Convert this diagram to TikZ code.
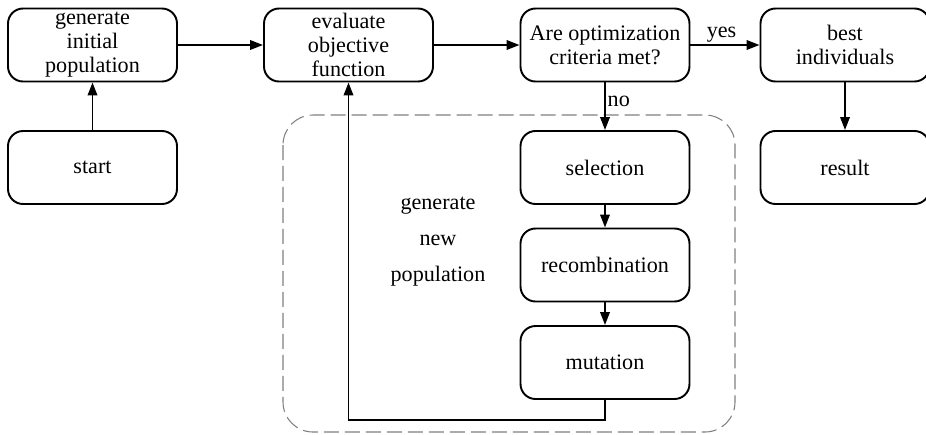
\documentclass[tikz,border=0pt]{standalone}
\usepackage{fontspec}
\setmainfont{Liberation Serif}
\usetikzlibrary{arrows.meta,positioning}
\tikzset{
  box/.style={draw, line width=1.1pt, rounded corners=0.3cm, align=center, minimum width=3.38cm, minimum height=1.46cm, inner sep=1pt, font=\fontsize{12.6}{13.7}\selectfont, fill=white},
  arr/.style={-{Triangle[length=2.6mm, width=1.9mm]}, line width=1.1pt},
  lbl/.style={font=\fontsize{12.6}{14}\selectfont, inner sep=1pt},
  group/.style={draw, gray, dashed, dash pattern=on 0.3cm off 0.12cm, line width=0.6pt, rounded corners=0.6cm}}

\begin{document}
\begin{tikzpicture}[x=0.02cm, y=-0.02cm]
  \useasboundingbox (0,0) rectangle (926,434);
  % dashed group
  \draw[group] (283,115) rectangle (735,432);
  \node[lbl, align=center, font=\fontsize{12.6}{20.5}\selectfont] (newpop) at (438,242) {generate\\new\\population};
  % main row
  \node[box] (init) at (92.5,45) {generate\\initial\\population};
  \node[box] (eval) at (348.5,45) {evaluate\\objective\\function};
  \node[box] (crit) at (605,45) {Are optimization\\criteria met?};
  \node[box] (best) at (845,45) {best\\individuals};
  % second row and loop body
  \node[box] (start) at (92.5,167.5) {start};
  \node[box] (sel) at (605,167.5) {selection};
  \node[box] (recomb) at (605,265) {recombination};
  \node[box] (mut) at (605,362.5) {mutation};
  \node[box] (result) at (845,167.5) {result};
  % connectors
  \draw[arr] (start) -- (init);
  \draw[arr] (init) -- (eval);
  \draw[arr] (eval) -- (crit);
  \draw[arr] (crit) -- node[lbl, above, pos=0.45] {yes} (best);
  \draw[arr] (crit) -- node[lbl, right, pos=0.4] {no} (sel);
  \draw[arr] (best) -- (result);
  \draw[arr] (sel) -- (recomb);
  \draw[arr] (recomb) -- (mut);
  \draw[arr] (mut.south) -- ++(0,20) -| (eval.south);
\end{tikzpicture}
\end{document}
